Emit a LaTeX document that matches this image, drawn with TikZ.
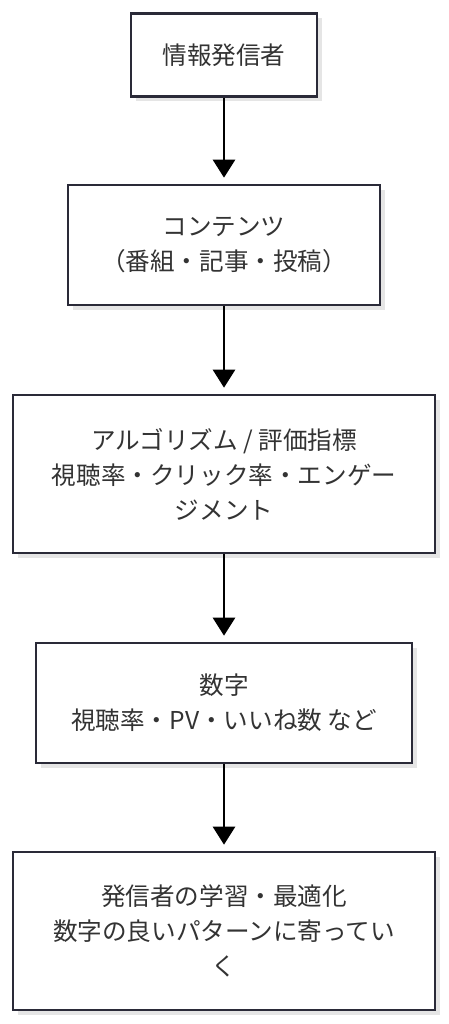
\documentclass[tikz,border=0pt]{standalone}
\usepackage{fontspec}
\setmainfont{Noto Sans CJK JP}
\usetikzlibrary{arrows.meta,shadows}
\definecolor{boxline}{HTML}{2A2A38}
\definecolor{txt}{HTML}{333333}
\tikzset{
  flowbox/.style={draw=boxline, line width=2.6pt, fill=white, align=center,
    text=txt, font=\fontsize{24.6pt}{35pt}\selectfont, inner sep=0pt,
    drop shadow={shadow xshift=5pt, shadow yshift=-5pt, fill=black, opacity=0.10}},
  flowarrow/.style={draw=black, line width=2.6pt,
    -{Triangle[width=22pt,length=18pt]}, shorten >=6pt}
}
\begin{document}
\begin{tikzpicture}[x=1pt,y=-1pt]
\useasboundingbox (0,0) rectangle (448,1024);
\node[flowbox, minimum width=186pt, minimum height=83pt] (a) at (224,55) {情報発信者};
\node[flowbox, minimum width=312pt, minimum height=120pt] (b) at (224,245) {コンテンツ\\（番組・記事・投稿）};
\node[flowbox, minimum width=422pt, minimum height=158pt] (c) at (224,474) {アルゴリズム / 評価指標\\視聴率・クリック率・エンゲー\\ジメント};
\node[flowbox, minimum width=376pt, minimum height=120pt] (d) at (224,703) {数字\\視聴率・PV・いいね数 など};
\node[flowbox, minimum width=422pt, minimum height=158pt] (e) at (224,931) {発信者の学習・最適化\\数字の良いパターンに寄ってい\\く};
\draw[flowarrow] (a.south) -- (b.north);
\draw[flowarrow] (b.south) -- (c.north);
\draw[flowarrow] (c.south) -- (d.north);
\draw[flowarrow] (d.south) -- (e.north);
\end{tikzpicture}
\end{document}
